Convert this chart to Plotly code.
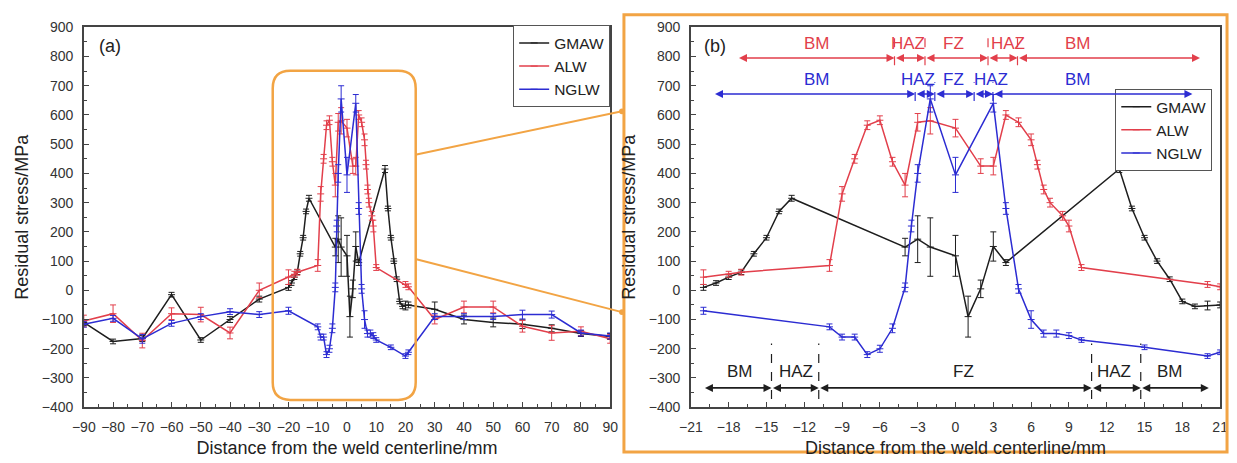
import plotly.graph_objects as go

W, H = 1237, 463

# ---------------- data ----------------
# outer points (panel a only)
outer_left_x = [-90, -80, -70, -60, -50, -40, -30]
outer_right_x = [30, 40, 50, 60, 70, 80, 90]

gmaw_left_y = [-110, -175, -165, -15, -170, -100, -30]
gmaw_left_err = [10, 8, 10, 8, 8, 10, 10]
gmaw_right_y = [-65, -100, -110, -116, -130, -148, -158]
gmaw_right_err = [25, 15, 15, 15, 12, 10, 10]

alw_left_y = [-105, -80, -172, -80, -83, -146, 0]
alw_left_err = [20, 30, 25, 20, 25, 20, 25]
alw_right_y = [-100, -57, -57, -123, -146, -140, -166]
alw_right_err = [15, 20, 20, 20, 25, 15, 15]

nglw_left_y = [-116, -96, -166, -113, -90, -73, -83]
nglw_left_err = [10, 10, 15, 10, 10, 10, 10]
nglw_right_y = [-90, -90, -90, -83, -83, -146, -156]
nglw_right_err = [10, 10, 10, 15, 12, 10, 10]

# central region (panel b, also in panel a)
gmaw_x = [-20, -19, -18, -17, -16, -15, -14, -13, -4, -3, -2, 0, 1, 2, 3, 4, 13, 14, 15, 16, 17, 18, 19, 20, 21]
gmaw_y = [10, 25, 45, 62, 125, 180, 270, 315, 148, 175, 148, 118, -90, 5, 150, 95, 415, 280, 180, 100, 38, -38, -55, -52, -50]
gmaw_err = [10, 8, 8, 8, 8, 8, 8, 10, 30, 80, 100, 70, 70, 30, 50, 10, 12, 8, 8, 8, 8, 8, 8, 15, 10]

alw_x = [-20, -18, -17, -10, -9, -8, -7, -6, -5, -4, -3, -2, 0, 2, 3, 4, 5, 6, 6.5, 7, 7.5, 8.5, 9, 10, 20, 21]
alw_y = [45, 55, 62, 85, 330, 450, 565, 582, 440, 360, 575, 580, 555, 425, 425, 600, 575, 515, 430, 345, 300, 255, 220, 78, 20, 12]
alw_err = [25, 10, 10, 20, 25, 15, 15, 15, 15, 40, 30, 45, 30, 25, 30, 15, 15, 20, 15, 15, 15, 15, 20, 10, 10, 10]

nglw_x = [-20, -10, -9, -8, -7, -6, -5, -4, -3.5, -3, -2, 0, 3, 4, 5, 6, 7, 8, 9, 10, 15, 20, 21]
nglw_y = [-70, -125, -160, -160, -220, -200, -130, 10, 220, 400, 655, 395, 640, 280, 5, -100, -148, -148, -155, -170, -195, -225, -212]
nglw_err = [12, 10, 10, 10, 10, 12, 15, 15, 20, 30, 45, 60, 30, 20, 15, 30, 12, 12, 10, 8, 8, 8, 8]

series_names = ["GMAW", "ALW", "NGLW"]
series_colors = ["#1e1e1e", "#e23f4b", "#2c2cd2"]

# weld zones (panel b)
zone_names = ["BM", "HAZ", "FZ", "HAZ", "BM"]
red_bounds = [-17.3, -4.84, -2.42, 2.58, 4.92, 19.4]
blue_bounds = [-19.2, -3.2, -1.64, 1.48, 2.97, 18.8]
black_bounds = [-20, -14.6, -10.85, 10.8, 14.7, 20.1]
red_label_x = [-11.0, -3.8, -0.16, 4.2, 9.7]
blue_label_x = [-11.0, -3.0, -0.16, 2.8, 9.7]
black_label_x = [-17.1, -12.65, 0.6, 12.6, 17.0]

# ---------------- figure ----------------
fig = go.Figure()

full = {
    "GMAW": (outer_left_x + gmaw_x + outer_right_x, gmaw_left_y + gmaw_y + gmaw_right_y,
             gmaw_left_err + gmaw_err + gmaw_right_err),
    "ALW": (outer_left_x + alw_x + outer_right_x, alw_left_y + alw_y + alw_right_y,
            alw_left_err + alw_err + alw_right_err),
    "NGLW": (outer_left_x + nglw_x + outer_right_x, nglw_left_y + nglw_y + nglw_right_y,
             nglw_left_err + nglw_err + nglw_right_err),
}
center = {
    "GMAW": (gmaw_x, gmaw_y, gmaw_err),
    "ALW": (alw_x, alw_y, alw_err),
    "NGLW": (nglw_x, nglw_y, nglw_err),
}


def add_series(data, xa, ya, leg):
    for name, col in zip(series_names, series_colors):
        xs, ys, es = data[name]
        fig.add_trace(go.Scatter(
            x=xs, y=ys, mode="lines+markers", name=name,
            line=dict(color=col, width=1.5),
            marker=dict(symbol="line-ew", size=5, line=dict(color=col, width=1)),
            error_y=dict(type="data", array=es, visible=True, color=col, thickness=1, width=3),
            xaxis=xa, yaxis=ya, legend=leg,
        ))


add_series(full, "x", "y", "legend")
add_series(center, "x2", "y2", "legend2")

ydom = [1 - 413.5 / H, 1 - 20 / H]
tickfont = dict(family="Liberation Sans, Arial", size=14, color="#333")
titlefont = dict(family="Liberation Sans, Arial", size=18, color="#222")

common = dict(showline=True, linecolor="#444", linewidth=1.5, mirror=True, ticks="inside",
              ticklen=5, tickcolor="#444", showgrid=False, zeroline=False, tickfont=tickfont,
              ticklabelstandoff=6)

legfont = dict(family="Liberation Sans, Arial", size=15.5, color="#222")

fig.update_layout(
    width=W, height=H, margin=dict(l=0, r=0, t=0, b=0),
    paper_bgcolor="white", plot_bgcolor="white",
    xaxis=dict(domain=[73 / W, 608 / W], range=[-90, 90], dtick=10, tick0=-90,
               minor=dict(ticks="inside", ticklen=3, dtick=5, tickcolor="#444"),
               title=dict(text="Distance from the weld centerline/mm", font=titlefont, standoff=8),
               anchor="y", **common),
    yaxis=dict(domain=ydom, range=[-400, 900], dtick=100,
               minor=dict(ticks="inside", ticklen=3, dtick=50, tickcolor="#444"),
               title=dict(text="Residual stress/MPa", font=titlefont, standoff=8),
               anchor="x", **common),
    xaxis2=dict(domain=[690 / W, 1228 / W], range=[-21, 21], dtick=3, tick0=-21,
                minor=dict(ticks="inside", ticklen=3, dtick=1.5, tickcolor="#444"),
                title=dict(text="Distance from the weld centerline/mm", font=titlefont, standoff=8),
                anchor="y2", **common),
    yaxis2=dict(domain=ydom, range=[-400, 900], dtick=100,
                minor=dict(ticks="inside", ticklen=3, dtick=50, tickcolor="#444"),
                title=dict(text="Residual stress/MPa", font=titlefont, standoff=8),
                anchor="x2", **common),
    legend=dict(x=608 / W, y=1 - 18 / H, xanchor="right", yanchor="top",
                bgcolor="white", bordercolor="#555", borderwidth=1,
                font=legfont, tracegroupgap=0),
    legend2=dict(x=1220 / W, y=1 - 84 / H, xanchor="right", yanchor="top",
                 bgcolor="white", bordercolor="#555", borderwidth=1,
                 font=legfont, tracegroupgap=0),
    showlegend=True,
)

orange = "#F2A444"
shapes = []
# rounded rectangle in panel (a)
x0, x1, y0, y1, rx, ry = -25.4, 23.5, -375, 751, 6, 60
path = (f"M {x0+rx},{y1} L {x1-rx},{y1} Q {x1},{y1} {x1},{y1-ry} L {x1},{y0+ry} "
        f"Q {x1},{y0} {x1-rx},{y0} L {x0+rx},{y0} Q {x0},{y0} {x0},{y0+ry} "
        f"L {x0},{y1-ry} Q {x0},{y1} {x0+rx},{y1} Z")
shapes.append(dict(type="path", path=path, xref="x", yref="y", line=dict(color=orange, width=2.5)))
# frame around panel (b)
shapes.append(dict(type="rect", xref="paper", yref="paper", x0=622 / W, x1=1235 / W,
                   y0=1 - 460 / H, y1=1 - 7 / H, line=dict(color=orange, width=3)))
# connector lines
for (ax_, ay_), (bx_, by_) in [((410, 152), (620, 107)), ((410, 260), (620, 315))]:
    shapes.append(dict(type="line", xref="paper", yref="paper", x0=ax_ / W, y0=1 - ay_ / H,
                       x1=bx_ / W, y1=1 - by_ / H, line=dict(color=orange, width=2)))
    shapes.append(dict(type="circle", xref="paper", yref="paper", x0=(bx_ - 3) / W, x1=(bx_ + 3) / W,
                       y0=1 - (by_ + 3) / H, y1=1 - (by_ - 3) / H,
                       fillcolor=orange, line=dict(color=orange, width=0)))

annotations = []
zone_rows = [
    (red_bounds, red_label_x, 795, 843, (770, 868), series_colors[1]),
    (blue_bounds, blue_label_x, 672, 722, (648, 712), series_colors[2]),
    (black_bounds, black_label_x, -334, -278, (-372, -182), series_colors[0]),
]
for bounds, lx, yrow, ylab, (d0, d1), col in zone_rows:
    for i in range(5):
        annotations.append(dict(x=bounds[i + 1], y=yrow, ax=bounds[i], ay=yrow,
                                xref="x2", yref="y2", axref="x2", ayref="y2", text="",
                                showarrow=True, arrowhead=2, startarrowhead=2, arrowside="end+start",
                                arrowsize=1, arrowwidth=1.6, arrowcolor=col, standoff=0, startstandoff=0))
        annotations.append(dict(x=lx[i], y=ylab, xref="x2", yref="y2", text=zone_names[i],
                                showarrow=False, font=dict(family="Liberation Sans, Arial", size=17, color=col)))
    for b in bounds[1:5]:
        shapes.append(dict(type="line", xref="x2", yref="y2", x0=b, x1=b, y0=d0, y1=d1,
                           line=dict(color=col, width=1.2, dash="dash")))

annotations.append(dict(x=-81, y=835, xref="x", yref="y", text="(a)", showarrow=False,
                        font=dict(family="Liberation Sans, Arial", size=18, color="#222")))
annotations.append(dict(x=-19.05, y=835, xref="x2", yref="y2", text="(b)", showarrow=False,
                        font=dict(family="Liberation Sans, Arial", size=18, color="#222")))

fig.update_layout(shapes=shapes, annotations=annotations)
fig.write_html("out.html")
